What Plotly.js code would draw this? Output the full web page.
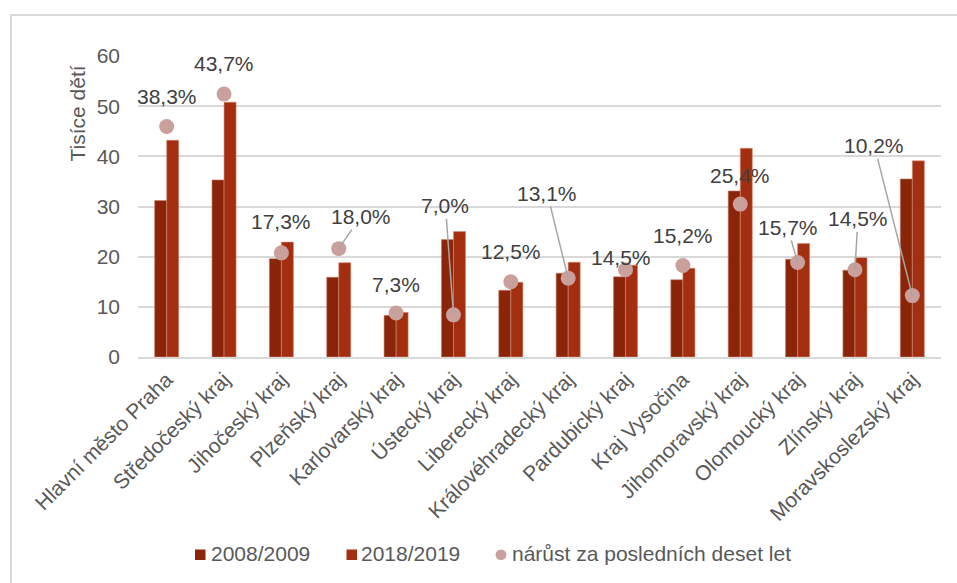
<!DOCTYPE html>
<html>
<head>
<meta charset="utf-8">
<script src="https://cdn.plot.ly/plotly-3.0.1.min.js"></script>
<style>
  html, body { margin: 0; padding: 0; background: #fff; }
  #wrap { position: relative; width: 957px; height: 583px; overflow: hidden; }
  #chart { position: absolute; left: 0; top: 0; width: 957px; height: 583px; }
  #frame { position: absolute; left: 10px; top: 14px; width: 1000px; height: 700px;
           border: 2px solid #d9d9d9; box-sizing: border-box; pointer-events: none; }
</style>
</head>
<body>
<div id="wrap">
  <div id="chart"></div>
  <div id="frame"></div>
</div>
<script>
// ---- data ----
const regions = [
  "Hlavní město Praha", "Středočeský kraj", "Jihočeský kraj", "Plzeňský kraj",
  "Karlovarský kraj", "Ústecký kraj", "Liberecký kraj", "Královéhradecký kraj",
  "Pardubický kraj", "Kraj Vysočina", "Jihomoravský kraj", "Olomoucký kraj",
  "Zlínský kraj", "Moravskoslezský kraj"
];
const values2008 = [31.2, 35.3, 19.6, 15.9, 8.3, 23.4, 13.3, 16.7, 16.0, 15.4, 33.1, 19.5, 17.3, 35.5];
const values2018 = [43.2, 50.8, 22.9, 18.8, 8.9, 25.0, 14.9, 18.9, 18.3, 17.7, 41.6, 22.6, 19.8, 39.1];
const growthPct  = [38.3, 43.7, 17.3, 18.0, 7.3, 7.0, 12.5, 13.1, 14.5, 15.2, 25.4, 15.7, 14.5, 10.2];
const seriesNames = ["2008/2009", "2018/2019", "nárůst za posledních deset let"];
const yTitle = "Tisíce dětí";

// ---- styles / placement ----
const colors = ["#8a250a", "#a32f10", "#c9a09b"];
const labelDX = [0, 0, 0, 22, 0, -8, 0, -21, -5, 0, 0, -10, 3, -38];
const labelDY = [-30, -30, -31, -32, -29, -109, -30, -85, -12, -30, -29, -35, -51, -150];
const leader  = [false, false, false, true, false, true, false, true, false, false, false, true, true, true];

const FONT = "Liberation Sans, Arial, sans-serif";
const FS = 21;
const fmt = v => v.toFixed(1).replace(".", ",") + "%";

// plot area in pixels (for legend / title placement)
const M = { l: 138, r: 16, t: 56, b: 226 };
const W = 957, H = 583;
const PW = W - M.l - M.r, PH = H - M.t - M.b;
const px = x => (x - M.l) / PW;
const py = y => (H - M.b - y) / PH;

const traces = [
  {
    type: "bar", name: seriesNames[0], x: regions, y: values2008,
    marker: { color: colors[0], line: { color: "#c9826e", width: 0.6 } },
    hoverinfo: "skip", showlegend: false
  },
  {
    type: "bar", name: seriesNames[1], x: regions, y: values2018,
    marker: { color: colors[1], line: { color: "#d48d78", width: 0.6 } },
    hoverinfo: "skip", showlegend: false
  },
  {
    type: "scatter", mode: "markers", name: seriesNames[2], x: regions, y: growthPct,
    yaxis: "y2", cliponaxis: false,
    marker: { color: colors[2], size: 15 },
    hoverinfo: "skip", showlegend: false
  }
];

const annotations = regions.map((r, i) => ({
  x: r, y: growthPct[i], xref: "x", yref: "y2",
  text: fmt(growthPct[i]),
  showarrow: true, arrowhead: 0, arrowwidth: 1.5,
  arrowcolor: leader[i] ? "#a6a6a6" : "rgba(0,0,0,0)",
  ax: labelDX[i], ay: labelDY[i],
  font: { family: FONT, size: FS, color: "#404040" },
  borderpad: 1
}));

// y axis title (placed near the top, as in the original)
annotations.push({
  xref: "paper", yref: "paper", x: px(77), y: py(113.5),
  xanchor: "center", yanchor: "middle", textangle: -90, showarrow: false,
  text: yTitle, font: { family: FONT, size: FS, color: "#595959" }
});

// custom legend (symbol boxes + texts)
const legendItems = [
  { sym: "rect",   x0: 195,   x1: 205.5, text: 210 },
  { sym: "rect",   x0: 346.5, x1: 357,   text: 360 },
  { sym: "circle", x0: 495.5, x1: 506.5, text: 511 }
];
const legY0 = 549.5, legY1 = 560, legTextY = 553.5;
const shapes = legendItems.map((it, i) => ({
  type: it.sym, xref: "paper", yref: "paper",
  x0: px(it.x0), x1: px(it.x1), y0: py(legY1), y1: py(legY0),
  fillcolor: colors[i], line: { width: 0 }
}));
legendItems.forEach((it, i) => annotations.push({
  xref: "paper", yref: "paper", x: px(it.text), y: py(legTextY),
  xanchor: "left", yanchor: "middle", showarrow: false,
  text: seriesNames[i], borderpad: 0,
  font: { family: FONT, size: FS, color: "#595959" }
}));

const layout = {
  width: W, height: H,
  margin: { l: M.l, r: M.r, t: M.t, b: M.b, pad: 0 },
  paper_bgcolor: "rgba(0,0,0,0)", plot_bgcolor: "rgba(0,0,0,0)",
  font: { family: FONT, size: FS, color: "#595959" },
  barmode: "group", bargap: 0.58, bargroupgap: 0,
  showlegend: false,
  xaxis: {
    type: "category", range: [-0.5, regions.length - 0.5],
    tickangle: -45, showgrid: false, zeroline: false,
    showline: true, linecolor: "#d9d9d9", linewidth: 2,
    ticks: "", tickfont: { family: FONT, size: FS, color: "#595959" },
    automargin: false
  },
  yaxis: {
    range: [0, 60], dtick: 10, showgrid: true, gridcolor: "#d9d9d9", gridwidth: 2,
    zeroline: false, showline: false, ticks: "", ticklabelstandoff: 17,
    tickfont: { family: FONT, size: FS, color: "#595959" },
    automargin: false
  },
  yaxis2: {
    overlaying: "y", side: "right", range: [0, 50], visible: false,
    showgrid: false, zeroline: false
  },
  shapes: shapes,
  annotations: annotations
};

Plotly.newPlot("chart", traces, layout, { staticPlot: true, displayModeBar: false });
</script>
</body>
</html>
